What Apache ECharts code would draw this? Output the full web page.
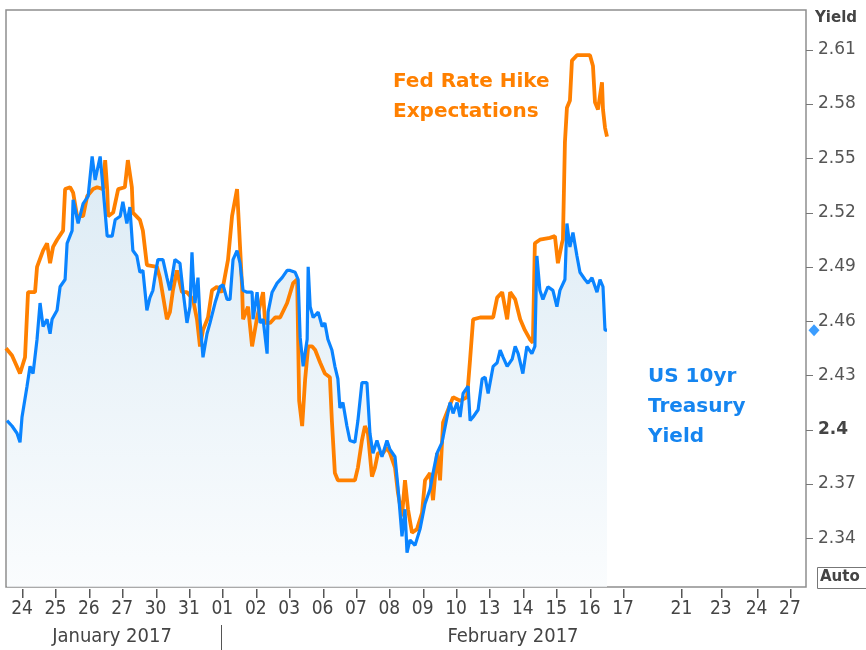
<!DOCTYPE html>
<html>
<head>
<meta charset="utf-8">
<script src="https://cdn.jsdelivr.net/npm/echarts@6/dist/echarts.min.js"></script>
<style>
html,body{margin:0;padding:0;background:#fff;}
#chart{width:866px;height:650px;}
</style>
</head>
<body>
<div id="chart"></div>
<script>
// Trading-day positions (0 = 24 Jan, each day centred on its tick) and values
const fedDays = [-0.48,-0.30,-0.06,0.09,0.18,0.39,0.45,0.63,0.75,0.84,
0.93,1.05,1.23,1.29,1.44,1.53,1.65,1.83,1.95,2.13,
2.25,2.43,2.49,2.55,2.58,2.73,2.88,3.08,3.17,3.29,
3.32,3.53,3.62,3.74,4.04,4.13,4.34,4.43,4.52,4.64,
4.79,4.94,5.12,5.24,5.33,5.42,5.57,5.69,5.84,5.99,
6.17,6.29,6.44,6.50,6.59,6.62,6.77,6.89,7.04,7.22,
7.28,7.43,7.58,7.73,7.94,8.12,8.24,8.30,8.39,8.48,
8.57,8.69,8.78,8.93,9.07,9.22,9.28,9.37,9.46,9.97,
10.06,10.18,10.27,10.36,10.48,10.57,10.66,10.81,10.93,11.02,
11.17,11.26,11.38,11.47,11.56,11.68,11.83,11.98,12.07,12.22,
12.31,12.43,12.52,12.61,12.76,12.91,13.12,13.33,13.42,13.51,
13.72,14.11,14.23,14.38,14.53,14.62,14.77,14.92,15.06,15.21,
15.30,15.36,15.51,15.81,15.96,16.05,16.17,16.20,16.26,16.32,
16.41,16.47,16.62,17.01,17.10,17.16,17.25,17.37,17.40,17.46,
17.52];
const fedVals = [2.445,2.441,2.431,2.440,2.476,2.476,2.490,2.499,2.503,2.492,
2.501,2.505,2.510,2.533,2.534,2.531,2.518,2.518,2.529,2.533,
2.534,2.533,2.549,2.533,2.518,2.520,2.533,2.534,2.549,2.534,
2.520,2.516,2.510,2.491,2.490,2.484,2.461,2.465,2.477,2.488,
2.476,2.476,2.472,2.461,2.446,2.455,2.462,2.477,2.479,2.476,
2.494,2.518,2.533,2.512,2.479,2.461,2.468,2.446,2.462,2.476,
2.459,2.459,2.462,2.462,2.470,2.481,2.483,2.416,2.402,2.428,
2.446,2.446,2.444,2.437,2.431,2.429,2.405,2.376,2.372,2.372,
2.379,2.394,2.402,2.398,2.374,2.379,2.387,2.387,2.390,2.387,
2.379,2.365,2.352,2.372,2.356,2.343,2.345,2.354,2.372,2.376,
2.361,2.387,2.372,2.404,2.411,2.418,2.416,2.418,2.439,2.461,
2.462,2.462,2.473,2.476,2.461,2.476,2.472,2.461,2.455,2.450,
2.448,2.503,2.505,2.506,2.507,2.492,2.503,2.505,2.559,2.578,
2.582,2.604,2.607,2.607,2.601,2.581,2.577,2.592,2.577,2.567,
2.562];

const tsyDays = [-0.45,-0.30,-0.15,-0.06,0.00,0.15,0.24,0.33,0.45,0.54,
0.63,0.75,0.84,0.90,1.05,1.14,1.29,1.35,1.50,1.53,
1.68,1.83,1.98,2.10,2.19,2.34,2.43,2.55,2.70,2.79,
2.94,3.02,3.14,3.23,3.32,3.44,3.53,3.62,3.74,3.83,
3.92,4.01,4.07,4.22,4.34,4.43,4.58,4.73,4.82,4.94,
5.03,5.09,5.12,5.18,5.27,5.33,5.42,5.54,5.63,5.78,
5.93,6.02,6.14,6.23,6.32,6.44,6.53,6.62,6.74,6.89,
6.92,7.04,7.13,7.22,7.34,7.37,7.49,7.64,7.79,7.94,
8.03,8.18,8.27,8.33,8.42,8.54,8.57,8.63,8.72,8.87,
8.99,9.07,9.16,9.28,9.37,9.46,9.52,9.61,9.73,9.82,
9.97,10.06,10.18,10.33,10.42,10.51,10.63,10.78,10.93,11.02,
11.17,11.26,11.38,11.47,11.53,11.62,11.77,11.92,12.07,12.22,
12.31,12.43,12.58,12.73,12.82,12.91,13.03,13.12,13.21,13.36,
13.42,13.51,13.66,13.78,13.87,13.96,14.11,14.23,14.32,14.41,
14.53,14.68,14.77,14.86,15.00,15.12,15.27,15.36,15.42,15.51,
15.60,15.75,15.90,16.02,16.11,16.26,16.32,16.41,16.50,16.62,
16.71,16.86,16.95,17.07,17.22,17.31,17.40,17.46,17.52];
const tsyVals = [2.405,2.402,2.398,2.393,2.407,2.424,2.435,2.431,2.450,2.470,
2.457,2.461,2.453,2.461,2.466,2.479,2.483,2.503,2.510,2.527,
2.514,2.525,2.529,2.551,2.538,2.551,2.533,2.507,2.507,2.516,
2.518,2.526,2.514,2.523,2.499,2.496,2.487,2.488,2.466,2.473,
2.477,2.488,2.494,2.494,2.484,2.477,2.494,2.492,2.477,2.459,
2.468,2.498,2.487,2.470,2.484,2.461,2.440,2.453,2.459,2.470,
2.479,2.480,2.472,2.472,2.494,2.499,2.492,2.477,2.476,2.476,
2.461,2.476,2.459,2.461,2.442,2.465,2.476,2.481,2.484,2.488,
2.488,2.487,2.483,2.451,2.435,2.450,2.490,2.468,2.462,2.465,
2.457,2.459,2.450,2.444,2.435,2.428,2.412,2.415,2.402,2.394,
2.393,2.405,2.426,2.426,2.398,2.387,2.394,2.385,2.394,2.389,
2.385,2.368,2.341,2.356,2.332,2.339,2.336,2.345,2.359,2.367,
2.376,2.387,2.393,2.407,2.415,2.409,2.415,2.407,2.420,2.424,
2.405,2.407,2.411,2.428,2.429,2.420,2.435,2.437,2.444,2.440,
2.435,2.439,2.446,2.442,2.431,2.446,2.442,2.446,2.496,2.477,
2.472,2.479,2.477,2.468,2.477,2.483,2.514,2.501,2.509,2.496,
2.487,2.483,2.481,2.484,2.476,2.483,2.479,2.455,2.455];

const tickPos = [0,1,2,3,4,5,6,7,8,9,10,11,12,13,14,15,16,17,18,19.75,20.93,22,23];
const tickLabels = ['24','25','26','27','30','31','01','02','03','06','07','08','09','10','13','14','15','16','17','21','23','24','27'];
const yTicks = [2.34,2.37,2.40,2.43,2.46,2.49,2.52,2.55,2.58,2.61];
const months = ['January 2017','February 2017'];
const fedLabel = 'Fed Rate Hike\nExpectations';
const tsyLabel = 'US 10yr\nTreasury\nYield';

const X_MIN = -0.48, X_MAX = 23.48, Y_MIN = 2.313, Y_MAX = 2.632;
const zip = (a, b) => a.map((d, i) => [d, b[i]]);

const chart = echarts.init(document.getElementById('chart'), null, {renderer: 'canvas'});
const narrow = '"Liberation Sans Narrow","DejaVu Sans Condensed","Liberation Sans",sans-serif';
const tsyData = zip(tsyDays, tsyVals);
const staticGraphics = [
  {type: 'text', left: 815, top: 11, style: {text: 'Yield', font: 'bold 15px "DejaVu Sans",sans-serif', fill: '#444'}},
  {type: 'rect', shape: {x: 817.5, y: 567.5, width: 60, height: 21}, style: {fill: '#fff', stroke: '#777', lineWidth: 1}},
  {type: 'text', x: 820, y: 570, style: {text: 'Auto', font: 'bold 15px "DejaVu Sans",sans-serif', fill: '#444'}},
  {type: 'text', x: 112, y: 637, style: {text: months[0], font: '20px ' + narrow, fill: '#444', align: 'center', verticalAlign: 'middle'}},
  {type: 'text', x: 513, y: 637, style: {text: months[1], font: '20px ' + narrow, fill: '#444', align: 'center', verticalAlign: 'middle'}},
  {type: 'line', shape: {x1: 221.5, y1: 625, x2: 221.5, y2: 650}, style: {stroke: '#555', lineWidth: 1}},
  {type: 'text', x: 393, y: 67, style: {text: fedLabel, font: 'bold 20px "DejaVu Sans",sans-serif', lineHeight: 30, fill: '#ff8000'}},
  {type: 'text', x: 648, y: 362, style: {text: tsyLabel, font: 'bold 20px "DejaVu Sans",sans-serif', lineHeight: 30, fill: '#1585f0'}}
];
chart.setOption({
  animation: false,
  backgroundColor: '#ffffff',
  grid: {left: 6, right: 60, top: 10, bottom: 63, show: true, borderColor: '#8e8e8e', borderWidth: 1.5, backgroundColor: '#ffffff'},
  xAxis: {
    type: 'value', min: X_MIN, max: X_MAX,
    axisLine: {show: false},
    splitLine: {show: false},
    axisTick: {show: false},
    axisLabel: {
      customValues: tickPos, margin: 13,
      color: '#444', fontFamily: narrow, fontSize: 19,
      formatter: v => { const i = tickPos.findIndex(p => Math.abs(p - v) < 1e-6); return i >= 0 ? tickLabels[i] : ''; }
    }
  },
  yAxis: {
    type: 'value', position: 'right', min: Y_MIN, max: Y_MAX,
    axisLine: {show: false},
    splitLine: {show: false},
    axisTick: {show: false},
    axisLabel: {
      customValues: yTicks, margin: 12,
      color: '#555', fontFamily: '"DejaVu Sans",sans-serif', fontSize: 17,
      formatter: v => Math.abs(v - 2.4) < 1e-6 ? '{b|2.4}' : v.toFixed(2),
      rich: {b: {fontWeight: 'bold', color: '#444', fontFamily: '"DejaVu Sans",sans-serif', fontSize: 17}}
    }
  },
  series: [
    {
      name: 'area', type: 'line', data: tsyData,
      showSymbol: false, symbol: 'none', z: 1, silent: true,
      lineStyle: {width: 0, opacity: 0},
      areaStyle: {
        color: new echarts.graphic.LinearGradient(0, 0, 0, 1, [
          {offset: 0, color: '#cde2f0'},
          {offset: 1, color: '#f8fbfd'}
        ])
      }
    },
    {
      name: 'Fed Rate Hike Expectations', type: 'line', data: zip(fedDays, fedVals),
      showSymbol: false, symbol: 'none', z: 2,
      lineStyle: {color: '#ff8000', width: 3.8}
    },
    {
      name: 'US 10yr Treasury Yield', type: 'line', data: tsyData,
      showSymbol: false, symbol: 'none', z: 3,
      lineStyle: {color: '#0a84ff', width: 3.2}
    },
    {
      name: 'last', type: 'scatter', clip: false, z: 5,
      data: [[X_MAX + 0.24, tsyVals[tsyVals.length - 1]]],
      symbol: 'diamond', symbolSize: [11, 12],
      itemStyle: {color: '#0a84ff'}
    }
  ],
  graphic: staticGraphics
});

// Tick marks placed through the chart's own scales, on their own layer
const tickGraphics = [];
tickPos.forEach(p => {
  const pt = chart.convertToPixel({gridIndex: 0}, [p, Y_MIN]);
  tickGraphics.push({type: 'rect', silent: true, zlevel: 1, z: 100, shape: {x: Math.round(pt[0]), y: Math.round(pt[1]) + 2, width: 1.5, height: 9}, style: {fill: '#555'}});
});
yTicks.forEach(v => {
  const pt = chart.convertToPixel({gridIndex: 0}, [X_MAX, v]);
  tickGraphics.push({type: 'rect', silent: true, zlevel: 1, z: 100, shape: {x: Math.round(pt[0]), y: Math.round(pt[1]), width: 7, height: 1}, style: {fill: '#777'}});
});
chart.setOption({graphic: staticGraphics.concat(tickGraphics)});
</script>
</body>
</html>
